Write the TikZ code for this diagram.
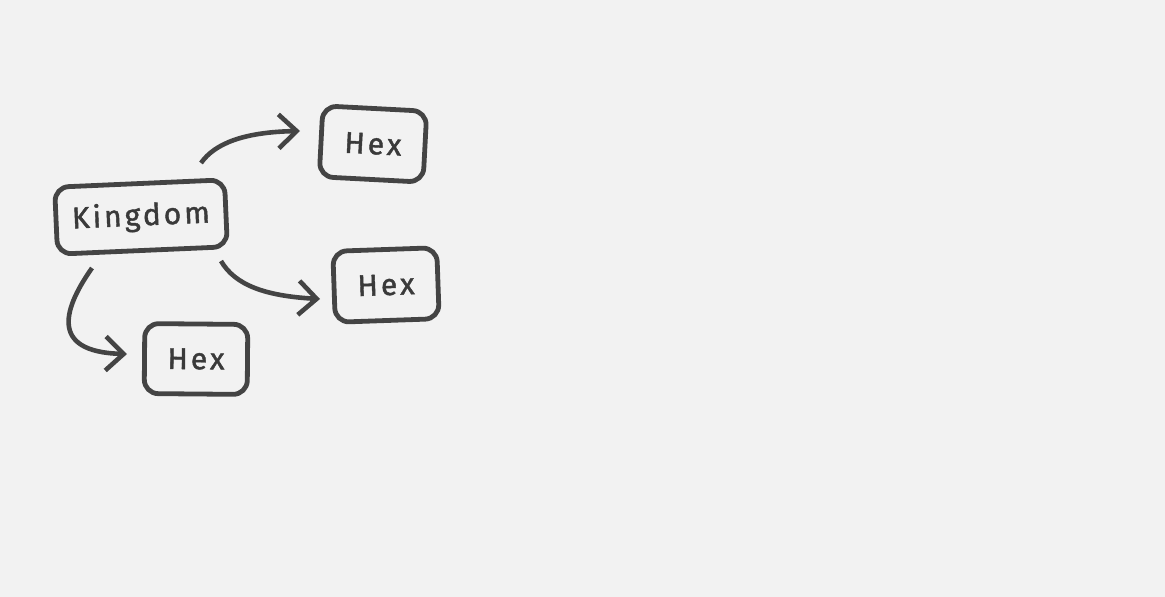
\documentclass[tikz,border=0pt]{standalone}
\usepackage{fontspec}
\setmainfont{Fira Sans}[LetterSpace=10,FakeBold=1.4]
\usetikzlibrary{arrows.meta,calc}
\definecolor{bgc}{HTML}{F2F2F2}
\definecolor{ink}{HTML}{444444}
\definecolor{txt}{HTML}{3A3A3A}
\begin{document}
\begin{tikzpicture}[x=1pt,y=-1pt,
  box/.style={draw=ink,line width=4.8pt,rounded corners=14pt,text=txt,
    font=\fontsize{30}{34}\selectfont,inner sep=0pt},
  arr/.style={draw=ink,line width=4.6pt,
    -{Straight Barb[length=18pt,width=34pt,line width=4.6pt]}}]
\fill[bgc] (0,0) rectangle (1165,597);
\useasboundingbox (0,0) rectangle (1165,597);
\node[box,minimum width=170pt,minimum height=67pt,rotate=2.5] (k) at (141,217) {Kingdom};
\node[box,minimum width=104pt,minimum height=71pt,rotate=-3] (h1) at (373,144) {Hex};
\node[box,minimum width=104pt,minimum height=71pt,rotate=2] (h2) at (386,285) {Hex};
\node[box,minimum width=103pt,minimum height=70pt,rotate=-0.5] (h3) at (196,359) {Hex};
\draw[arr] ($(k.center)+(60,-54)$) .. controls (215,143) and (245,132) .. ($(h1.center)+(-73,-13)$);
\draw[arr] ($(k.center)+(80,44)$) .. controls (235,285) and (265,296) .. ($(h2.center)+(-66,14)$);
\draw[arr] ($(k.center)+(-49,51)$) .. controls (66,305) and (46,352) .. ($(h3.center)+(-69,-5)$);
\end{tikzpicture}
\end{document}
